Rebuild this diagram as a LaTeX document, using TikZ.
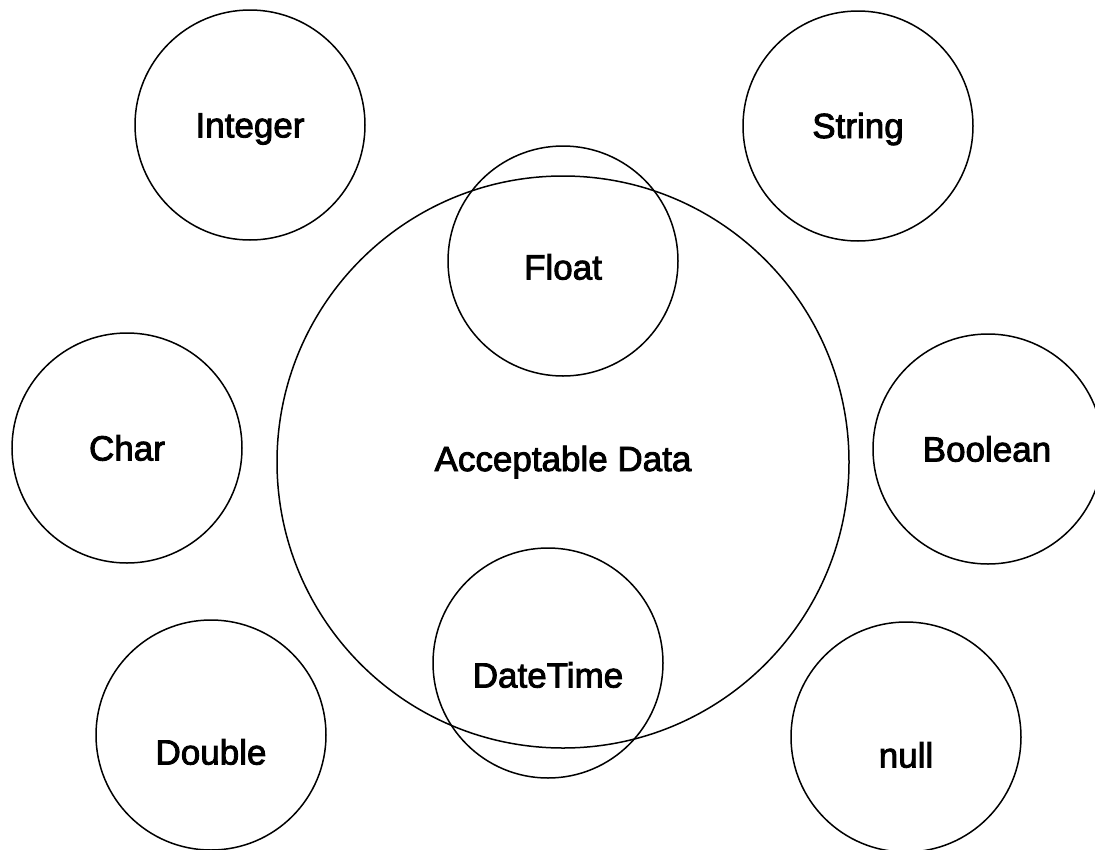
\documentclass[tikz,border=0pt]{standalone}
\usepackage{fontspec}
\setmainfont{Liberation Sans}
\newfontfamily\labelfont[FakeBold=2.5]{Liberation Sans}
\usetikzlibrary{positioning}
\tikzstyle{typelabel} = [inner sep=0pt, font=\labelfont\fontsize{35}{42}\selectfont]
\tikzstyle{datatype} = [circle, draw=black, line width=1.5pt, minimum size=230pt, inner sep=0pt, typelabel]
\tikzstyle{container} = [datatype, minimum size=572pt]

\begin{document}
\begin{tikzpicture}[x=1pt, y=-1pt]

        \useasboundingbox (0,0) rectangle (1095,849);

        \node (accept) [container] at (563,462) {Acceptable Data};

        \node (float) [datatype] at (563,261) {};
        \node (floatlabel) [typelabel] at ([yshift=-6pt]float.center) {Float};
        \node (datetime) [datatype] at (548,663) {};
        \node (datetimelabel) [typelabel] at ([yshift=-12pt]datetime.center) {DateTime};

        \node (integer) [datatype] at (250,125) {};
        \node (integerlabel) [typelabel] at ([yshift=-4pt]integer.center) {Integer};
        \node (string) [datatype] at (858,126) {};
        \node (stringlabel) [typelabel] at ([yshift=-3pt]string.center) {String};
        \node (char) [datatype] at (127,448) {Char};
        \node (boolean) [datatype] at (988,449) {};
        \node (booleanlabel) [typelabel] at ([xshift=-1pt]boolean.center) {Boolean};
        \node (double) [datatype] at (211,735) {};
        \node (doublelabel) [typelabel] at ([yshift=-17pt]double.center) {Double};
        \node (null) [datatype] at (906,737) {};
        \node (nulllabel) [typelabel] at ([yshift=-18pt]null.center) {null};

    \end{tikzpicture}
\end{document}
